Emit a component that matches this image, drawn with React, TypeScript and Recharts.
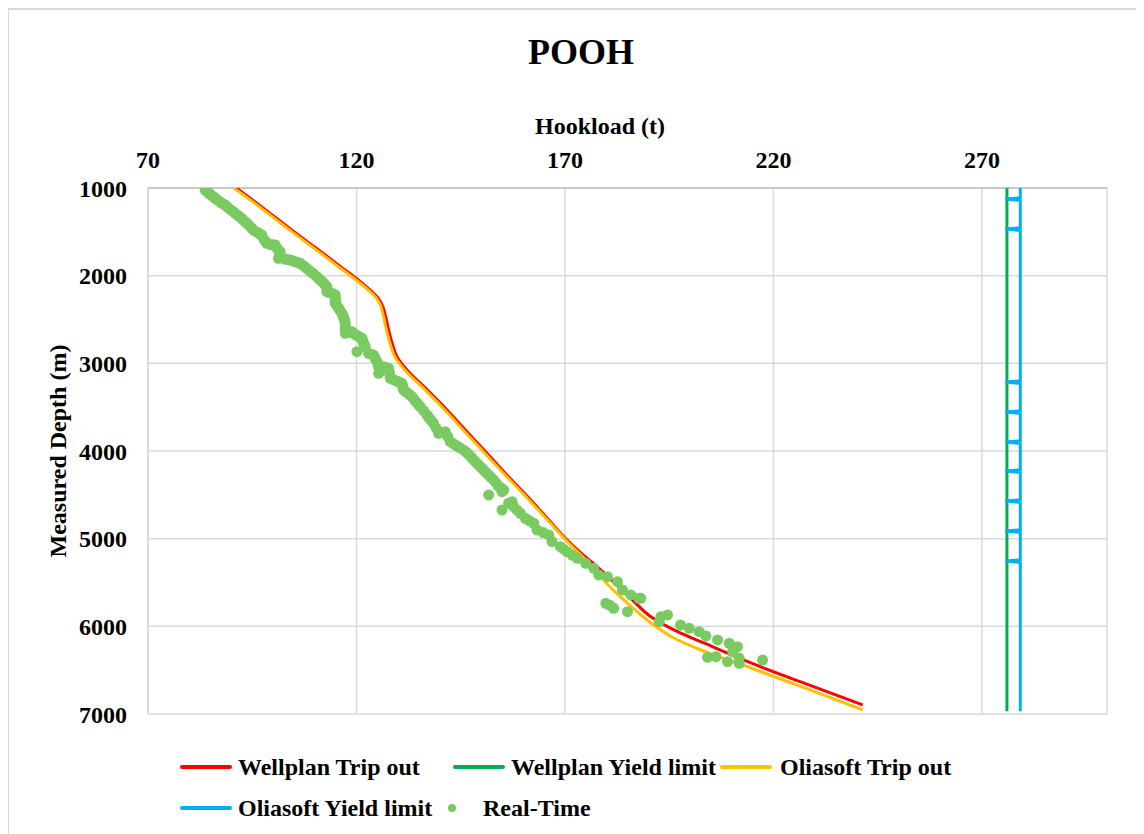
import React from "react";
import { CartesianGrid, Scatter, ScatterChart, XAxis, YAxis } from "recharts";

const FONT = "Liberation Serif, Times New Roman, serif";
const RED = "#FF0000";
const GREEN = "#00B050";
const ORANGE = "#FFC000";
const BLUE = "#00B0F0";
const RT_GREEN = "#7ACA62";
const GRID = "#D9D9D9";

const HOOKLOAD_TICKS = [70, 120, 170, 220, 270];
const DEPTH_TICKS = [1000, 2000, 3000, 4000, 5000, 6000, 7000];

// [hookload t, measured depth m]
const wellplanTripOut: [number, number][] = [
  [91.2, 1000], [96.0, 1170], [100.4, 1330], [105.0, 1498], [109.0, 1640], [112.5, 1764],
  [116.1, 1895], [119.9, 2030], [123.2, 2163], [125.1, 2250], [126.1, 2330], [126.9, 2450],
  [127.7, 2620], [128.6, 2780], [129.7, 2924], [132.1, 3076], [136.9, 3300], [141.7, 3532],
  [146.5, 3780], [151.3, 4026], [156.0, 4270], [161.0, 4520], [165.8, 4770], [170.5, 5015],
  [174.0, 5170], [177.7, 5319], [182.0, 5510], [186.2, 5700], [190.6, 5890], [197.0, 6060],
  [203.3, 6190], [214.6, 6418], [228.0, 6660], [241.4, 6897],
];

const oliasoftTripOut: [number, number][] = [
  [90.6, 1000], [95.5, 1170], [99.9, 1330], [104.5, 1498], [108.5, 1640], [112.0, 1764],
  [115.6, 1895], [119.4, 2030], [122.8, 2163], [124.7, 2250], [125.7, 2330], [126.4, 2450],
  [127.2, 2620], [128.1, 2780], [129.2, 2924], [131.6, 3076], [136.4, 3300], [141.2, 3532],
  [146.0, 3780], [150.8, 4026], [155.6, 4270], [160.6, 4520], [165.5, 4770], [170.2, 5015],
  [173.9, 5190], [176.8, 5330], [178.5, 5433], [183.0, 5650], [186.5, 5800], [190.6, 5962],
  [196.0, 6130], [202.6, 6270], [214.6, 6475], [228.0, 6710], [241.4, 6954],
];

const wellplanYield: [number, number][] = [
  [276.0, 1000], [276.0, 6970],
];

const oliasoftYield: [number, number][] = [
  [279.2, 1000],
  [279.2, 1112], [275.6, 1126], [279.2, 1142],
  [279.2, 1454], [275.6, 1468], [279.2, 1484],
  [279.2, 3199], [275.6, 3213], [279.2, 3229],
  [279.2, 3541], [275.6, 3555], [279.2, 3571],
  [279.2, 3883], [275.6, 3897], [279.2, 3913],
  [279.2, 4214], [275.6, 4228], [279.2, 4244],
  [279.2, 4556], [275.6, 4570], [279.2, 4586],
  [279.2, 4898], [275.6, 4912], [279.2, 4928],
  [279.2, 5241], [275.6, 5255], [279.2, 5271],
  [279.2, 6970],
];

const realTime: [number, number][] = [
  [83.7, 1023], [84.2, 1040], [84.6, 1060], [85.0, 1075], [85.4, 1090], [85.8, 1105],
  [86.1, 1117], [86.6, 1135], [87.2, 1155], [87.8, 1175], [88.5, 1194], [89.0, 1215],
  [89.6, 1240], [90.3, 1265], [90.9, 1289], [91.5, 1310], [92.0, 1330], [92.6, 1355],
  [93.3, 1384], [93.8, 1405], [94.3, 1430], [94.8, 1455], [95.3, 1479], [95.8, 1495],
  [96.4, 1510], [96.8, 1525], [97.3, 1536], [97.8, 1585], [98.2, 1610], [98.5, 1631],
  [99.4, 1645], [99.9, 1648], [100.5, 1650], [101.0, 1690], [101.7, 1727], [101.5, 1765],
  [101.3, 1802], [102.8, 1810], [103.4, 1815], [104.1, 1821], [104.7, 1830], [105.3, 1840],
  [105.9, 1850], [106.5, 1859], [107.0, 1877], [107.5, 1895], [108.0, 1915], [108.5, 1935],
  [109.1, 1958], [109.7, 1980], [110.3, 2005], [110.9, 2030], [111.4, 2053], [111.9, 2075],
  [112.4, 2100], [112.9, 2126], [112.9, 2155], [112.9, 2183], [113.5, 2192], [114.0, 2200],
  [114.5, 2210], [114.9, 2220], [114.9, 2245], [114.9, 2270], [114.9, 2292], [114.9, 2315],
  [115.3, 2342], [115.7, 2370], [116.1, 2400], [116.5, 2429], [116.8, 2460], [117.0, 2490],
  [117.2, 2515], [117.3, 2543], [117.3, 2570], [117.3, 2600], [117.3, 2628], [117.3, 2657],
  [118.1, 2648], [118.9, 2639], [119.4, 2660], [120.0, 2680], [120.7, 2697], [121.3, 2714],
  [121.5, 2742], [121.7, 2771], [121.9, 2790], [122.1, 2810], [120.1, 2867], [122.9, 2885],
  [123.5, 2895], [124.1, 2905], [124.5, 2945], [125.0, 2990], [125.3, 3040], [125.7, 3095],
  [125.3, 3114], [126.2, 3068], [126.6, 3040], [127.0, 3050], [127.7, 3057], [127.9, 3110],
  [128.1, 3171], [128.8, 3185], [129.5, 3200], [130.2, 3214], [130.9, 3228], [131.1, 3266],
  [131.3, 3304], [131.8, 3322], [132.3, 3340], [132.8, 3360], [133.3, 3380], [133.8, 3410],
  [134.3, 3440], [134.8, 3468], [135.3, 3495], [136.1, 3540], [136.9, 3589], [137.3, 3615],
  [137.7, 3640], [138.1, 3662], [138.5, 3684], [139.1, 3740], [139.7, 3798], [140.5, 3789],
  [141.3, 3780], [141.9, 3837], [142.5, 3894], [143.2, 3917], [144.0, 3940], [144.8, 3964],
  [145.7, 3988], [146.4, 4016], [147.0, 4045], [147.6, 4073], [148.1, 4102], [148.7, 4131],
  [149.3, 4160], [149.9, 4188], [150.5, 4217], [151.1, 4246], [151.7, 4275], [152.3, 4303],
  [152.9, 4331], [153.5, 4365], [154.0, 4400], [154.7, 4422], [155.3, 4445], [154.9, 4464],
  [151.7, 4502], [156.5, 4596], [157.3, 4578], [154.9, 4673], [157.7, 4635], [158.5, 4672],
  [159.3, 4710], [160.5, 4767], [161.5, 4796], [162.5, 4824], [163.3, 4901], [164.8, 4930],
  [166.1, 4958], [166.9, 5034], [168.9, 5091], [169.7, 5120], [170.5, 5148], [171.8, 5190],
  [173.0, 5224], [175.0, 5281], [176.9, 5338], [178.1, 5414], [180.2, 5434], [182.6, 5491],
  [183.8, 5585], [185.8, 5642], [187.7, 5680], [188.2, 5680], [179.8, 5737], [180.8, 5760],
  [181.7, 5794], [185.0, 5833], [193.0, 5890], [194.6, 5870], [192.6, 5947], [197.7, 5985],
  [199.8, 6023], [202.2, 6061], [203.8, 6110], [206.6, 6155], [209.4, 6193], [211.4, 6232],
  [210.2, 6289], [204.2, 6353], [206.2, 6346], [209.0, 6403], [211.8, 6365], [211.8, 6421],
  [217.4, 6384],
];

const toPoints = (rows: [number, number][]) => rows.map(([x, y]) => ({ x, y }));

const NoDot = () => <g />;
const RtDot = (props: any) => <circle cx={props.cx} cy={props.cy} r={5.5} fill={RT_GREEN} />;

const textStyle: React.CSSProperties = {
  position: "absolute",
  fontFamily: FONT,
  fontWeight: 700,
  color: "#000",
  whiteSpace: "nowrap",
  lineHeight: 1,
};

function LegendLine({ left, top, color }: { left: number; top: number; color: string }) {
  return (
    <div
      style={{
        position: "absolute",
        left,
        top: top - 2,
        width: 52,
        height: 4,
        borderRadius: 2,
        background: color,
      }}
    />
  );
}

function LegendText({ left, top, children }: { left: number; top: number; children: React.ReactNode }) {
  return (
    <div style={{ ...textStyle, left, top: top - 12, fontSize: 24 }}>{children}</div>
  );
}

export default function App() {
  const tick = { fontSize: 24, fontWeight: 700, fill: "#000", fontFamily: FONT };
  return (
    <div
      style={{
        position: "relative",
        width: 1136,
        height: 826,
        overflow: "hidden",
        background: "#fff",
        fontFamily: FONT,
      }}
    >
      <style>{`html, body { overflow: hidden; }`}</style>
      <div
        style={{
          position: "absolute",
          left: -1,
          top: 0,
          width: 2000,
          height: 2000,
          borderLeft: `2px solid ${GRID}`,
          borderTop: `2px solid ${GRID}`,
        }}
      />
      <ScatterChart
        width={1136}
        height={826}
        margin={{ top: 140, right: 37, bottom: 120, left: 50 }}
        style={{ fontFamily: FONT }}
      >
        <CartesianGrid stroke={GRID} strokeWidth={1.5} />
        <XAxis
          type="number"
          dataKey="x"
          orientation="top"
          domain={[70, 300]}
          ticks={HOOKLOAD_TICKS}
          height={40}
          tick={tick}
          tickLine={false}
          tickMargin={14}
          axisLine={{ stroke: "#BFBFBF", strokeWidth: 1.5 }}
          allowDataOverflow
        />
        <YAxis
          type="number"
          dataKey="y"
          reversed
          domain={[1000, 7000]}
          ticks={DEPTH_TICKS}
          width={90}
          tick={tick}
          tickLine={false}
          tickMargin={15}
          axisLine={{ stroke: GRID, strokeWidth: 1.5 }}
          allowDataOverflow
        />
        <Scatter
          data={toPoints(wellplanTripOut)}
          line={{ stroke: RED, strokeWidth: 3 }}
          lineJointType="monotoneY"
          shape={NoDot}
          isAnimationActive={false}
        />
        <Scatter data={toPoints(wellplanYield)} line={{ stroke: GREEN, strokeWidth: 3 }} shape={NoDot} isAnimationActive={false} />
        <Scatter
          data={toPoints(oliasoftTripOut)}
          line={{ stroke: ORANGE, strokeWidth: 3 }}
          lineJointType="monotoneY"
          shape={NoDot}
          isAnimationActive={false}
        />
        <Scatter data={toPoints(oliasoftYield)} line={{ stroke: BLUE, strokeWidth: 3 }} shape={NoDot} isAnimationActive={false} />
        <Scatter data={toPoints(realTime)} shape={RtDot} isAnimationActive={false} />
      </ScatterChart>

      <div style={{ ...textStyle, left: 0, width: 1146, top: 26, fontSize: 36, textAlign: "center" }}>POOH</div>
      <div style={{ ...textStyle, left: 492, width: 200, top: 106, fontSize: 24, textAlign: "center" }}>Hookload (t)</div>
      <div
        style={{
          ...textStyle,
          left: 50 - 150,
          width: 300,
          top: 443 - 12,
          fontSize: 24,
          textAlign: "center",
          transform: "rotate(-90deg)",
        }}
      >
        Measured Depth (m)
      </div>

      <LegendLine left={172} top={759} color={RED} />
      <LegendText left={230} top={759}>Wellplan Trip out</LegendText>
      <LegendLine left={445} top={759} color={GREEN} />
      <LegendText left={503} top={759}>Wellplan Yield limit</LegendText>
      <LegendLine left={712} top={759} color={ORANGE} />
      <LegendText left={772} top={759}>Oliasoft Trip out</LegendText>
      <LegendLine left={172} top={800} color={BLUE} />
      <LegendText left={230} top={800}>Oliasoft Yield limit</LegendText>
      <div
        style={{
          position: "absolute",
          left: 444 - 4,
          top: 800 - 4,
          width: 8,
          height: 8,
          borderRadius: 4,
          background: RT_GREEN,
        }}
      />
      <LegendText left={475} top={800}>Real-Time</LegendText>
    </div>
  );
}
